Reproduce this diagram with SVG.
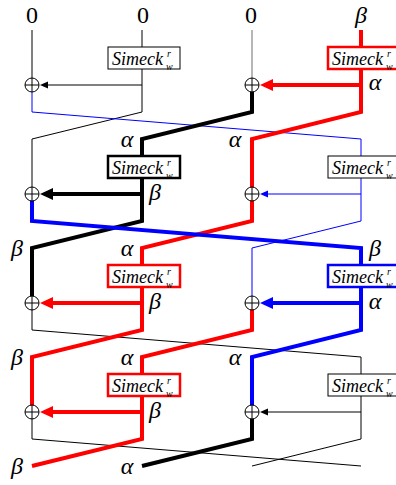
<svg xmlns="http://www.w3.org/2000/svg" xmlns:xlink="http://www.w3.org/1999/xlink" width="396" height="485" viewBox="0 0 396 485">
<style>
.th{fill:none;stroke-width:1}
.tk{fill:none;stroke-width:4;stroke-linejoin:miter}
.k{stroke:#000}.r{stroke:#ff0000}.b{stroke:#0000ff}.g{stroke:#6e6e6e}
.box{fill:#fff}
.bt{font-family:"Liberation Serif","Times New Roman",serif;font-style:italic;font-size:18px;fill:#000}
.bs{font-family:"Liberation Serif","Times New Roman",serif;font-style:italic;font-size:10px;fill:#000}
.gl{font-family:"Liberation Serif","Times New Roman",serif;font-style:italic;font-size:24px;fill:#000;text-anchor:middle}
.zr{font-family:"Liberation Serif","Times New Roman",serif;font-size:24px;fill:#000;text-anchor:middle}
</style>
<defs>
<marker id="ahk" markerUnits="userSpaceOnUse" markerWidth="8" markerHeight="8" viewBox="0 0 8 8" refX="3" refY="4" orient="auto"><path d="M0,0.5 L8,4 L0,7.5z" fill="#000"/></marker>
<marker id="ahb" markerUnits="userSpaceOnUse" markerWidth="8" markerHeight="8" viewBox="0 0 8 8" refX="3" refY="4" orient="auto"><path d="M0,0.5 L8,4 L0,7.5z" fill="#0000ff"/></marker>
<marker id="AHr" markerUnits="userSpaceOnUse" markerWidth="13" markerHeight="12" viewBox="0 0 13 12" refX="6" refY="6" orient="auto"><path d="M0,0 L13,6 L0,12z" fill="#ff0000"/></marker>
<marker id="AHk" markerUnits="userSpaceOnUse" markerWidth="13" markerHeight="12" viewBox="0 0 13 12" refX="6" refY="6" orient="auto"><path d="M0,0 L13,6 L0,12z" fill="#000"/></marker>
<marker id="AHb" markerUnits="userSpaceOnUse" markerWidth="13" markerHeight="12" viewBox="0 0 13 12" refX="6" refY="6" orient="auto"><path d="M0,0 L13,6 L0,12z" fill="#0000ff"/></marker>
<g id="xor"><circle cx="0" cy="0" r="7" fill="#fff" stroke="#000" stroke-width="1"/><path d="M-7,0H7M0,-7V7" stroke="#000" stroke-width="1"/></g>
</defs>

<g id="connectors">
<polyline class="th k" points="32,30 32,85"/>
<polyline class="th k" points="142,30 142,112 32,139 32,194"/>
<polyline class="th g" points="252,30 252,85"/>
<polyline class="th b" points="32,85 32,112 361,139 361,221 252,248 252,303"/>
<polyline class="th k" points="32,303 32,330 361,357 361,439 252,466"/>
<polyline class="th k" points="32,412 32,439 361,466"/>
<line class="th k" x1="142" y1="85" x2="45" y2="85" marker-end="url(#ahk)"/>
<line class="th b" x1="361" y1="194" x2="265" y2="194" marker-end="url(#ahb)"/>
<line class="th k" x1="361" y1="412" x2="265" y2="412" marker-end="url(#ahk)"/>
<polyline class="tk r" points="361,30 361,112 252,139 252,221 142,248 142,330 32,357 32,412"/>
<polyline class="tk r" points="252,303 252,330 142,357 142,439 32,466"/>
<polyline class="tk k" points="252,85 252,112 142,139 142,221 32,248 32,303"/>
<polyline class="tk k" points="252,412 252,439 142,466"/>
<polyline class="tk b" points="32,194 32,221 361,248 361,330 252,357 252,412"/>
<line class="tk r" x1="361" y1="85" x2="267" y2="85" marker-end="url(#AHr)"/>
<line class="tk k" x1="142" y1="194" x2="47" y2="194" marker-end="url(#AHk)"/>
<line class="tk r" x1="142" y1="303" x2="47" y2="303" marker-end="url(#AHr)"/>
<line class="tk b" x1="361" y1="303" x2="267" y2="303" marker-end="url(#AHb)"/>
<line class="tk r" x1="142" y1="412" x2="47" y2="412" marker-end="url(#AHr)"/>
</g>

<g id="xor-1a"><use xlink:href="#xor" x="32" y="85"/></g>
<g id="xor-1c"><use xlink:href="#xor" x="252" y="85"/></g>
<g id="xor-2a"><use xlink:href="#xor" x="32" y="194"/></g>
<g id="xor-2c"><use xlink:href="#xor" x="252" y="194"/></g>
<g id="xor-3a"><use xlink:href="#xor" x="32" y="303"/></g>
<g id="xor-3c"><use xlink:href="#xor" x="252" y="303"/></g>
<g id="xor-4a"><use xlink:href="#xor" x="32" y="412"/></g>
<g id="xor-4c"><use xlink:href="#xor" x="252" y="412"/></g>

<g id="box-1b"><rect class="box" x="108" y="47" width="72" height="22" stroke="#000" stroke-width="1"/><text class="bt" x="112" y="65">Simeck</text><text class="bs" x="167" y="57">r</text><text class="bs" x="166" y="70">w</text></g>
<g id="box-1d"><rect class="box" x="328" y="47" width="72" height="22" stroke="#ff0000" stroke-width="2.5"/><text class="bt" x="332" y="65">Simeck</text><text class="bs" x="387" y="57">r</text><text class="bs" x="386" y="70">w</text></g>
<g id="box-2b"><rect class="box" x="108" y="156" width="72" height="22" stroke="#000" stroke-width="2.5"/><text class="bt" x="112" y="174">Simeck</text><text class="bs" x="167" y="166">r</text><text class="bs" x="166" y="179">w</text></g>
<g id="box-2d"><rect class="box" x="328" y="156" width="72" height="22" stroke="#000" stroke-width="1"/><text class="bt" x="332" y="174">Simeck</text><text class="bs" x="387" y="166">r</text><text class="bs" x="386" y="179">w</text></g>
<g id="box-3b"><rect class="box" x="108" y="265" width="72" height="22" stroke="#ff0000" stroke-width="2.5"/><text class="bt" x="112" y="283">Simeck</text><text class="bs" x="167" y="275">r</text><text class="bs" x="166" y="288">w</text></g>
<g id="box-3d"><rect class="box" x="328" y="265" width="72" height="22" stroke="#0000ff" stroke-width="2.5"/><text class="bt" x="332" y="283">Simeck</text><text class="bs" x="387" y="275">r</text><text class="bs" x="386" y="288">w</text></g>
<g id="box-4b"><rect class="box" x="108" y="374" width="72" height="22" stroke="#ff0000" stroke-width="2.5"/><text class="bt" x="112" y="392">Simeck</text><text class="bs" x="167" y="384">r</text><text class="bs" x="166" y="397">w</text></g>
<g id="box-4d"><rect class="box" x="328" y="374" width="72" height="22" stroke="#000" stroke-width="1"/><text class="bt" x="332" y="392">Simeck</text><text class="bs" x="387" y="384">r</text><text class="bs" x="386" y="397">w</text></g>

<g id="labels">
<text class="zr" x="32" y="23">0</text>
<text class="zr" x="143" y="23">0</text>
<text class="zr" x="251" y="23">0</text>
<text class="gl" x="361" y="23">β</text>
<text class="gl" x="375" y="90">α</text>
<text class="gl" x="127" y="147">α</text>
<text class="gl" x="235" y="147">α</text>
<text class="gl" x="155" y="200">β</text>
<text class="gl" x="17" y="256">β</text>
<text class="gl" x="127" y="256">α</text>
<text class="gl" x="375" y="256">β</text>
<text class="gl" x="155" y="309">β</text>
<text class="gl" x="375" y="309">α</text>
<text class="gl" x="17" y="365">β</text>
<text class="gl" x="127" y="365">α</text>
<text class="gl" x="235" y="365">α</text>
<text class="gl" x="155" y="418">β</text>
<text class="gl" x="17" y="474">β</text>
<text class="gl" x="127" y="474">α</text>
</g>
</svg>
